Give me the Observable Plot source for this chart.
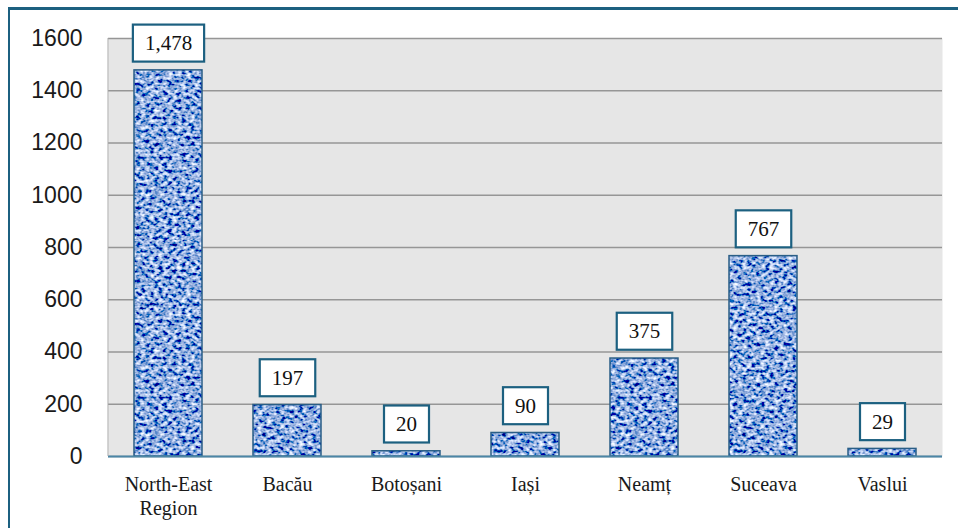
<!DOCTYPE html>
<html>
<head>
<meta charset="utf-8">
<script src="https://cdn.jsdelivr.net/npm/d3@7"></script>
<script src="https://cdn.jsdelivr.net/npm/@observablehq/plot@0.6"></script>
<style>
  html, body { margin: 0; padding: 0; background: #fff; }
  #wrap { position: relative; width: 958px; height: 528px; overflow: hidden; }
  #frame { position: absolute; left: 8px; top: 7px; width: 1000px; height: 600px;
           border-left: 2px solid #1c6080; border-top: 3px solid #1c6080; pointer-events: none; }
</style>
</head>
<body>
<div id="wrap"><div id="frame"></div></div>
<script>
const categories = ["North-East Region", "Bacău", "Botoșani", "Iași", "Neamț", "Suceava", "Vaslui"];
const values = [1478, 197, 20, 90, 375, 767, 29];
const yTicks = [0, 200, 400, 600, 800, 1000, 1200, 1400, 1600];
const tickLabels = {"North-East Region": "North-East\nRegion"};

const data = categories.map((c, i) => ({category: c, value: values[i]}));

const serif = "'Liberation Serif', 'Times New Roman', serif";
const sans = "'Liberation Sans', Arial, sans-serif";

const chart = Plot.plot({
  width: 958,
  height: 528,
  marginLeft: 108,
  marginRight: 16,
  marginTop: 38,
  marginBottom: 72,
  x: {domain: categories, paddingInner: 0.43, paddingOuter: 0.215, label: null},
  y: {domain: [0, 1600], label: null},
  marks: [
    Plot.frame({fill: "#e6e6e6", stroke: null}),
    Plot.gridY(yTicks, {stroke: "#969696", strokeOpacity: 1, strokeWidth: 1.5}),
    Plot.barY(data, {x: "category", y: "value", fill: "url(#tex)", stroke: "#2a5e86", strokeWidth: 1.5}),
    Plot.ruleY([0], {stroke: "#4b86a6", strokeWidth: 2}),
    Plot.axisY({ticks: yTicks, tickSize: 0, tickPadding: 26, fontSize: 23, tickFormat: d => String(d),
      fontFamily: sans, fill: "#1a1a1a"}),
    Plot.axisX({tickSize: 0, tickPadding: 17, fontSize: 20, lineHeight: 1.2, lineAnchor: "top",
      fontFamily: serif, fill: "#1a1a1a",
      tickFormat: d => tickLabels[d] ?? d}),
    Plot.text(data, {x: "category", y: "value", text: d => d3.format(",")(d.value), dy: -27,
      fontSize: 21, fontFamily: serif, fill: "#111"})
  ]
});

document.getElementById("wrap").prepend(chart);

const svg = d3.select(chart);
svg.insert("defs", ":first-child").html(`
  <filter id="noise" x="0" y="0" width="100%" height="100%" filterUnits="objectBoundingBox">
    <feTurbulence type="fractalNoise" baseFrequency="0.22 0.3" numOctaves="2" seed="7" result="t"/>
    <feColorMatrix type="matrix" values="
      2.2 0 0 0 -0.83
      2.0 0 0 0 -0.6
      1.5 0 0 0 -0.04
      0 0 0 0 1"/>
  </filter>
  <pattern id="tex" patternUnits="userSpaceOnUse" x="0" y="0" width="240" height="240">
    <rect width="240" height="240" fill="#5a80c4"/>
    <rect width="240" height="240" filter="url(#noise)"/>
  </pattern>
`);

// force fonts with inline styles
svg.selectAll('g[aria-label="text"], g[aria-label="x-axis tick label"]').style("font-family", serif);
svg.selectAll('g[aria-label="y-axis tick label"]').style("font-family", sans);

// left edge of the plotting area
svg.append("line").attr("x1", 108).attr("x2", 108).attr("y1", 38).attr("y2", 456)
  .attr("stroke", "#a8a8a8").attr("stroke-width", 1);

// boxed value labels
svg.select('g[aria-label="text"]').selectAll("text").each(function() {
  const b = this.getBBox();
  const padX = 12, padY = 6.5;
  d3.select(this.parentNode).insert("rect", () => this)
    .attr("transform", this.getAttribute("transform"))
    .attr("x", b.x - padX).attr("y", b.y - padY)
    .attr("width", b.width + 2 * padX).attr("height", b.height + 2 * padY)
    .attr("fill", "#fff").attr("stroke", "#1c6080").attr("stroke-width", 2.2);
});
</script>
</body>
</html>
